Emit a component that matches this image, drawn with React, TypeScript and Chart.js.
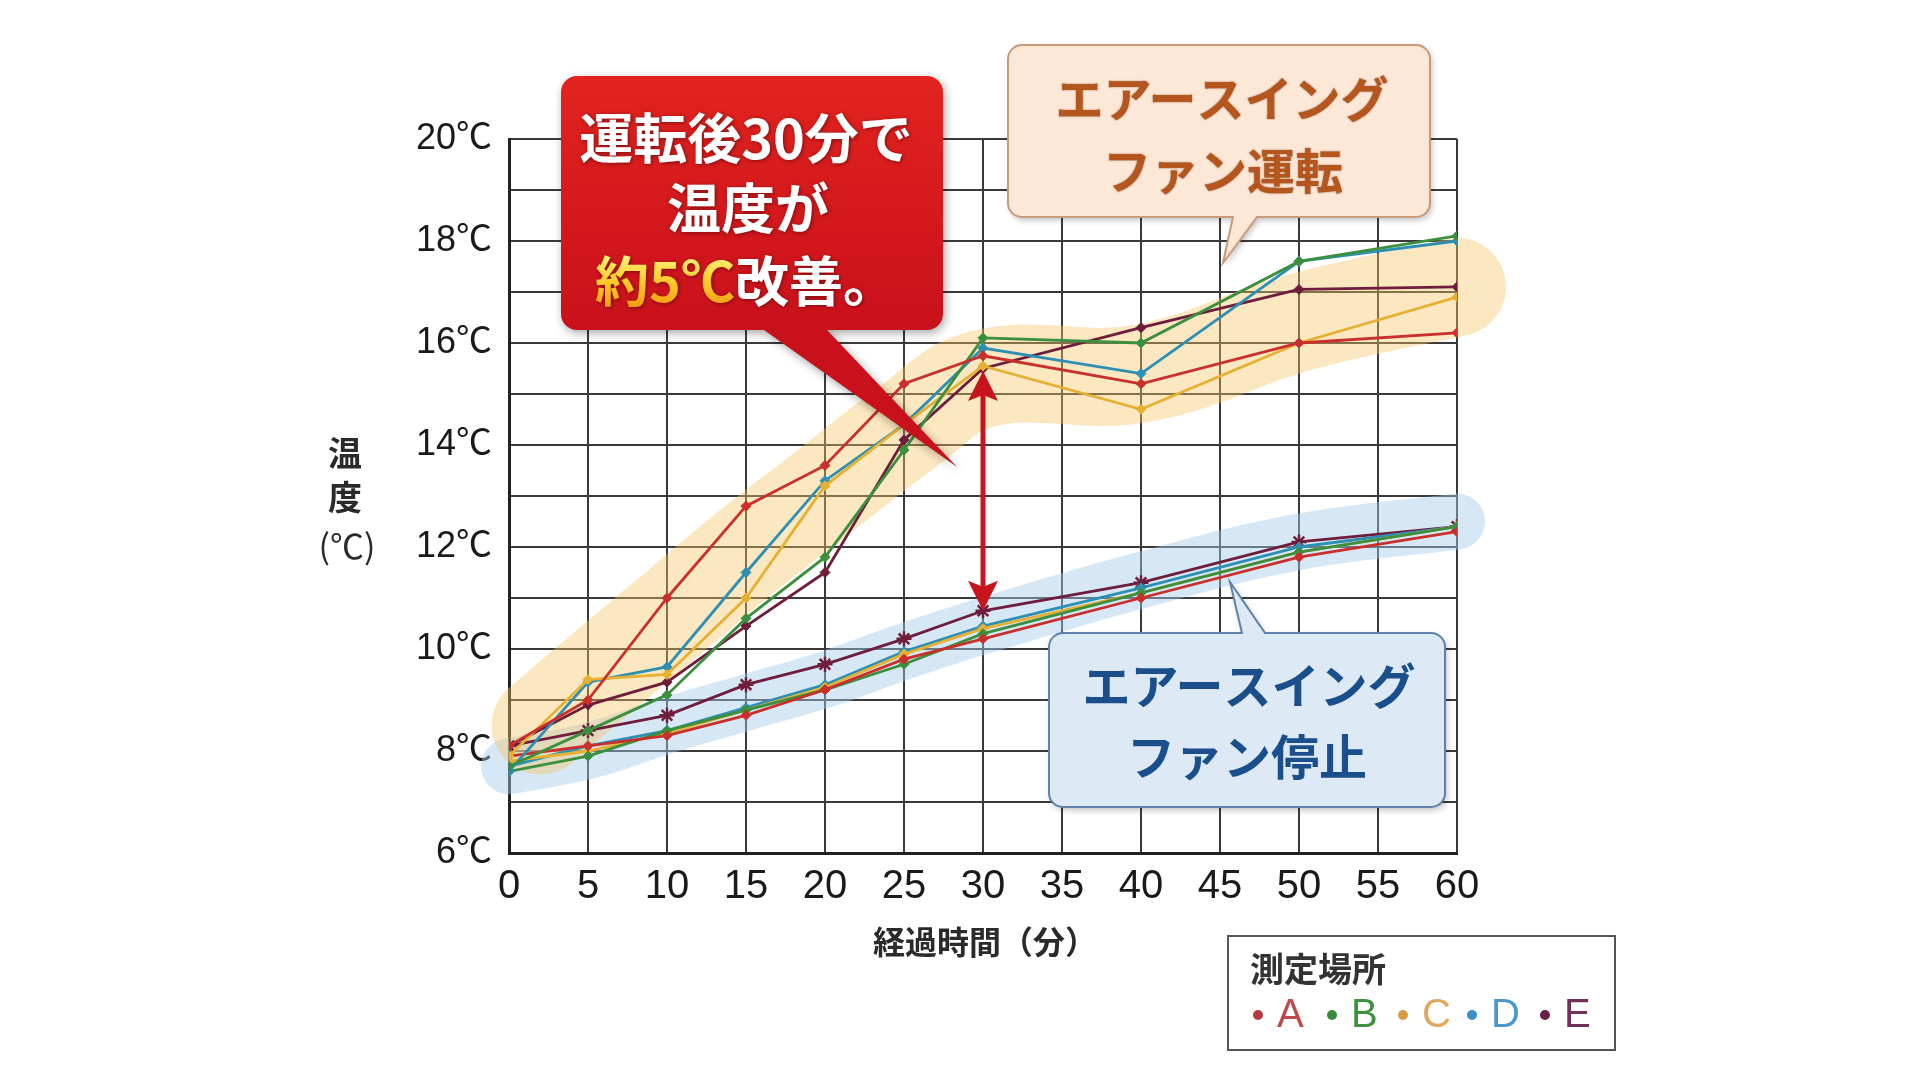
import { useEffect, useRef } from "react";
import { Chart, registerables } from "chart.js";

Chart.register(...registerables);

// elapsed time (min)
const minutes = [0, 5, 10, 15, 20, 25, 30, 40, 50, 60];

// fan running (upper group)
const onA = [8.1, 9.0, 11.0, 12.8, 13.6, 15.2, 15.75, 15.2, 16.0, 16.2];
const onB = [7.7, 8.4, 9.1, 10.6, 11.8, 13.9, 16.1, 16.0, 17.6, 18.1];
const onC = [7.9, 9.4, 9.5, 11.0, 13.2, 14.4, 15.55, 14.7, 16.0, 16.9];
const onD = [7.6, 9.35, 9.65, 11.5, 13.3, 14.4, 15.9, 15.4, 17.6, 18.0];
const onE = [8.1, 8.9, 9.35, 10.45, 11.5, 14.1, 15.5, 16.3, 17.05, 17.1];

// fan stopped (lower group)
const offA = [7.9, 8.1, 8.3, 8.7, 9.2, 9.8, 10.2, 11.0, 11.8, 12.3];
const offB = [7.6, 7.9, 8.4, 8.8, 9.2, 9.7, 10.3, 11.1, 11.9, 12.4];
const offC = [7.8, 8.0, 8.35, 8.8, 9.25, 9.9, 10.4, 11.1, 11.9, 12.4];
const offD = [7.7, 8.1, 8.4, 8.85, 9.3, 9.95, 10.45, 11.2, 12.0, 12.4];
const offE = [8.1, 8.4, 8.7, 9.3, 9.7, 10.2, 10.75, 11.3, 12.1, 12.4];

// highlight bands behind the two groups
const bandOnMinutes = [2, 5, 10, 15, 20, 25, 30, 40, 50, 60];
const bandOn = [8.5, 9.3, 10.6, 11.9, 13.1, 14.3, 15.3, 15.4, 16.4, 17.1];
const bandOff = [7.7, 8.0, 8.5, 8.95, 9.4, 9.95, 10.45, 11.35, 12.1, 12.5];

// the "about 5 degrees" arrow at 30 min
const arrowMinute = 30;
const arrowTop = 15.45;
const arrowBottom = 10.75;

const seriesNames = ["A", "B", "C", "D", "E"];
const lineColors = ["#c9302c", "#3b8f3e", "#e6b032", "#2e8fb5", "#6e1e3c"];
const dotColors = ["#b83a3a", "#3a8a3a", "#d99a45", "#3b8fc4", "#6a1f48"];
const letterColors = ["#c04a4a", "#3f903f", "#e0a85a", "#4a98cc", "#70305a"];

const JP = '"Noto Sans CJK JP", sans-serif';
const LATIN = '"Liberation Sans", "Noto Sans CJK JP", sans-serif';

const pts = (ys: number[], xs: number[] = minutes) => xs.map((m, i) => ({ x: m, y: ys[i] }));

type Tail = { side: "top" | "bottom"; x1: number; x2: number; tx: number; ty: number };

function bubblePath(ctx: CanvasRenderingContext2D, l: number, t: number, r: number, b: number, rad: number, tail: Tail) {
  ctx.beginPath();
  ctx.moveTo(l + rad, t);
  if (tail.side === "top") {
    ctx.lineTo(tail.x1, t);
    ctx.lineTo(tail.tx, tail.ty);
    ctx.lineTo(tail.x2, t);
  }
  ctx.lineTo(r - rad, t);
  ctx.arcTo(r, t, r, t + rad, rad);
  ctx.lineTo(r, b - rad);
  ctx.arcTo(r, b, r - rad, b, rad);
  if (tail.side === "bottom") {
    ctx.lineTo(tail.x2, b);
    ctx.lineTo(tail.tx, tail.ty);
    ctx.lineTo(tail.x1, b);
  }
  ctx.lineTo(l + rad, b);
  ctx.arcTo(l, b, l, b - rad, rad);
  ctx.lineTo(l, t + rad);
  ctx.arcTo(l, t, l + rad, t, rad);
  ctx.closePath();
}

const overlay = {
  id: "overlay",
  afterDatasetsDraw(chart: Chart) {
    const ctx = chart.ctx;
    const xs = chart.scales.x;
    const ys = chart.scales.y;
    const ax = xs.getPixelForValue(arrowMinute);
    const y1 = ys.getPixelForValue(arrowTop);
    const y2 = ys.getPixelForValue(arrowBottom);
    ctx.save();
    ctx.strokeStyle = "#c8141c";
    ctx.fillStyle = "#c8141c";
    ctx.lineWidth = 5;
    ctx.beginPath();
    ctx.moveTo(ax, y1 + 20);
    ctx.lineTo(ax, y2 - 20);
    ctx.stroke();
    ctx.beginPath();
    ctx.moveTo(ax, y1);
    ctx.lineTo(ax - 15, y1 + 30);
    ctx.lineTo(ax, y1 + 24);
    ctx.lineTo(ax + 15, y1 + 30);
    ctx.closePath();
    ctx.fill();
    ctx.beginPath();
    ctx.moveTo(ax, y2);
    ctx.lineTo(ax - 15, y2 - 30);
    ctx.lineTo(ax, y2 - 24);
    ctx.lineTo(ax + 15, y2 - 30);
    ctx.closePath();
    ctx.fill();
    ctx.restore();
  },
  afterDraw(chart: Chart) {
    const ctx = chart.ctx;
    ctx.save();

    // axis titles
    ctx.fillStyle = "#2a2a2a";
    ctx.textAlign = "center";
    ctx.textBaseline = "middle";
    ctx.font = `bold 34px ${JP}`;
    ctx.fillText("温", 345, 453);
    ctx.fillText("度", 345, 497);
    ctx.font = `34px ${JP}`;
    ctx.fillText("(℃)", 347, 546);
    ctx.font = `bold 32px ${JP}`;
    ctx.fillText("経過時間（分）", 985, 942);

    // red callout
    ctx.save();
    ctx.shadowColor = "rgba(0,0,0,0.35)";
    ctx.shadowBlur = 10;
    ctx.shadowOffsetX = 2;
    ctx.shadowOffsetY = 3;
    const rg = ctx.createLinearGradient(0, 76, 0, 330);
    rg.addColorStop(0, "#e2231f");
    rg.addColorStop(1, "#c9111b");
    ctx.fillStyle = rg;
    bubblePath(ctx, 561, 76, 943, 330, 16, { side: "bottom", x1: 764, x2: 827, tx: 957, ty: 467 });
    ctx.fill();
    ctx.restore();

    ctx.save();
    ctx.font = `bold 54px ${JP}`;
    ctx.shadowColor = "rgba(60,0,0,0.55)";
    ctx.shadowBlur = 4;
    ctx.shadowOffsetX = 1;
    ctx.shadowOffsetY = 1;
    ctx.fillStyle = "#ffffff";
    ctx.textAlign = "center";
    ctx.textBaseline = "middle";
    ctx.fillText("運転後30分で", 746, 138);
    ctx.fillText("温度が", 748, 208);
    const p1 = "約5℃";
    const p2 = "改善。";
    const w1 = ctx.measureText(p1).width;
    const w2 = ctx.measureText(p2).width;
    const sx = 746 - (w1 + w2) / 2;
    ctx.textAlign = "left";
    const yg = ctx.createLinearGradient(0, 255, 0, 308);
    yg.addColorStop(0, "#fff27a");
    yg.addColorStop(0.5, "#ffcb2a");
    yg.addColorStop(1, "#f29a12");
    ctx.fillStyle = yg;
    ctx.fillText(p1, sx, 281);
    ctx.fillStyle = "#ffffff";
    ctx.fillText(p2, sx + w1, 281);
    ctx.restore();

    // peach callout (fan running)
    ctx.save();
    ctx.shadowColor = "rgba(0,0,0,0.25)";
    ctx.shadowBlur = 6;
    ctx.shadowOffsetX = 2;
    ctx.shadowOffsetY = 3;
    ctx.fillStyle = "#fde8d8";
    bubblePath(ctx, 1008, 45, 1430, 217, 14, { side: "bottom", x1: 1233, x2: 1257, tx: 1223, ty: 263 });
    ctx.fill();
    ctx.shadowColor = "transparent";
    ctx.strokeStyle = "#c99a7a";
    ctx.lineWidth = 2;
    ctx.stroke();
    ctx.restore();

    ctx.save();
    ctx.font = `bold 48px ${JP}`;
    ctx.fillStyle = "#b4561e";
    ctx.shadowColor = "rgba(90,40,0,0.6)";
    ctx.shadowBlur = 2;
    ctx.textAlign = "center";
    ctx.textBaseline = "middle";
    ctx.fillText("エアースイング", 1222, 99);
    ctx.fillText("ファン運転", 1223, 171);
    ctx.restore();

    // blue callout (fan stopped)
    ctx.save();
    ctx.shadowColor = "rgba(0,0,0,0.25)";
    ctx.shadowBlur = 6;
    ctx.shadowOffsetX = 2;
    ctx.shadowOffsetY = 3;
    ctx.fillStyle = "#dde9f5";
    bubblePath(ctx, 1049, 633, 1445, 807, 14, { side: "top", x1: 1242, x2: 1265, tx: 1230, ty: 582 });
    ctx.fill();
    ctx.shadowColor = "transparent";
    ctx.strokeStyle = "#5e82aa";
    ctx.lineWidth = 2;
    ctx.stroke();
    ctx.restore();

    ctx.save();
    ctx.font = `bold 48px ${JP}`;
    ctx.fillStyle = "#1a4f8b";
    ctx.textAlign = "center";
    ctx.textBaseline = "middle";
    ctx.fillText("エアースイング", 1249, 686);
    ctx.fillText("ファン停止", 1247, 757);
    ctx.restore();

    // legend
    ctx.save();
    ctx.fillStyle = "#ffffff";
    ctx.fillRect(1228, 936, 387, 114);
    ctx.strokeStyle = "#555";
    ctx.lineWidth = 2;
    ctx.strokeRect(1228, 936, 387, 114);
    ctx.fillStyle = "#333";
    ctx.font = `bold 34px ${JP}`;
    ctx.textAlign = "left";
    ctx.textBaseline = "middle";
    ctx.fillText("測定場所", 1250, 969);
    const dotX = [1258, 1332, 1403, 1472, 1545];
    ctx.font = `40px ${LATIN}`;
    seriesNames.forEach((name, i) => {
      ctx.fillStyle = dotColors[i];
      ctx.beginPath();
      ctx.arc(dotX[i], 1015, 5, 0, Math.PI * 2);
      ctx.fill();
      ctx.fillStyle = letterColors[i];
      ctx.fillText(name, dotX[i] + 19, 1016);
    });
    ctx.restore();

    ctx.restore();
  },
};

export default function App() {
  const canvasRef = useRef<HTMLCanvasElement>(null);
  const chartRef = useRef<Chart | null>(null);

  useEffect(() => {
    if (!canvasRef.current) return;
    if (chartRef.current) chartRef.current.destroy();
    const ctx = canvasRef.current.getContext("2d");
    if (!ctx) return;

    const onSets = [onA, onB, onC, onD, onE];
    const offSets = [offA, offB, offC, offD, offE];

    const lineSet = (vals: number[], i: number, off: boolean) => ({
      label: `${seriesNames[i]}${off ? " 停止" : " 運転"}`,
      data: pts(vals),
      borderColor: lineColors[i],
      backgroundColor: lineColors[i],
      borderWidth: 2.8,
      pointRadius: off && i === 4 ? 7.5 : 5,
      pointStyle: off && i === 4 ? "star" : "rectRot",
      pointBorderWidth: off && i === 4 ? 2.5 : 1,
      pointBackgroundColor: lineColors[i],
      pointBorderColor: lineColors[i],
      tension: 0,
      order: 1,
    });

    chartRef.current = new Chart(ctx, {
      type: "line",
      data: {
        datasets: [
          ...onSets.map((v, i) => lineSet(v, i, false)),
          ...offSets.map((v, i) => lineSet(v, i, true)),
          {
            label: "band on",
            data: pts(bandOn, bandOnMinutes),
            borderColor: "rgba(246, 196, 98, 0.4)",
            borderWidth: 98,
            pointRadius: 0,
            tension: 0.4,
            borderCapStyle: "round",
            borderJoinStyle: "round",
            clip: false,
            order: 10,
          },
          {
            label: "band off",
            data: pts(bandOff),
            borderColor: "rgba(165, 203, 233, 0.45)",
            borderWidth: 56,
            pointRadius: 0,
            tension: 0.4,
            borderCapStyle: "round",
            borderJoinStyle: "round",
            clip: false,
            order: 10,
          },
        ],
      } as any,
      options: {
        animation: false,
        responsive: false,
        devicePixelRatio: 1,
        layout: { padding: { left: 389, right: 463, top: 139, bottom: 147 } },
        plugins: {
          legend: { display: false },
          tooltip: { enabled: false },
        },
        scales: {
          x: {
            type: "linear",
            min: 0,
            max: 60,
            afterFit: (s: any) => {
              s.height = 80;
            },
            ticks: {
              stepSize: 5,
              autoSkip: false,
              maxRotation: 0,
              padding: 10,
              color: "#1a1a1a",
              font: { family: LATIN, size: 40 },
              callback: (v: any) => String(v),
            },
            grid: { color: "#3a3a3a", lineWidth: 2, drawTicks: false },
            border: { color: "#222", width: 3 },
          },
          y: {
            type: "linear",
            min: 6,
            max: 20,
            afterFit: (s: any) => {
              s.width = 120;
            },
            ticks: {
              stepSize: 1,
              padding: 17,
              color: "#1a1a1a",
              font: { family: LATIN, size: 36 },
              callback: (v: any) => (Number(v) % 2 === 0 ? `${v}℃` : ""),
            },
            grid: { color: "#3a3a3a", lineWidth: 2, drawTicks: false },
            border: { color: "#222", width: 3 },
          },
        },
      },
      plugins: [overlay],
    });

    return () => {
      chartRef.current?.destroy();
      chartRef.current = null;
    };
  }, []);

  return (
    <div style={{ position: "fixed", left: 0, top: 0, width: 1920, height: 1080, background: "#fff" }}>
      <canvas ref={canvasRef} width={1920} height={1080} style={{ width: 1920, height: 1080 }} />
    </div>
  );
}
